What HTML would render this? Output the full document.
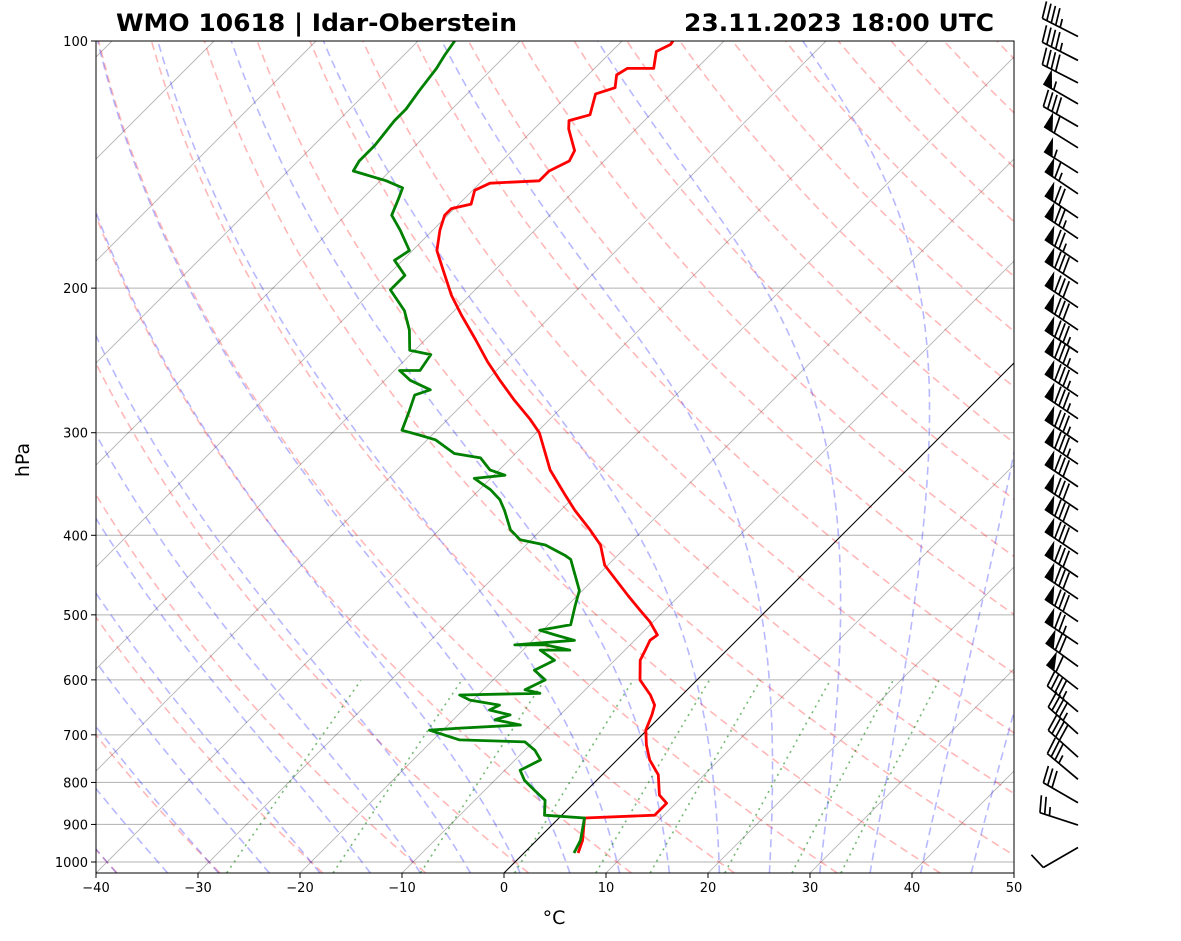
<!DOCTYPE html>
<html><head><meta charset="utf-8">
<style>
html,body{margin:0;padding:0;background:#fff;}
svg{display:block;font-family:"DejaVu Sans","Liberation Sans",sans-serif;}
</style></head>
<body>
<svg id="chart" width="1181" height="941" viewBox="0 0 1181 941" xmlns="http://www.w3.org/2000/svg">
<defs><clipPath id="plotclip"><rect x="96" y="41" width="918" height="832"/></clipPath></defs>
<rect x="0" y="0" width="1181" height="941" fill="#fff"/>
<g id="bg" clip-path="url(#plotclip)"></g>
<g id="series" clip-path="url(#plotclip)"></g>
<rect x="96" y="41" width="918" height="832" fill="none" stroke="#000" stroke-width="1"/>
<g id="axes"></g>
<g id="barbs"></g>
<text x="116" y="31" font-size="24" font-weight="bold" textLength="401" lengthAdjust="spacingAndGlyphs">WMO 10618 | Idar-Oberstein</text>
<text x="684" y="31" font-size="24" font-weight="bold" textLength="310" lengthAdjust="spacingAndGlyphs">23.11.2023 18:00 UTC</text>
<text x="554" y="924" font-size="19" text-anchor="middle">°C</text>
<text x="0" y="0" font-size="19" text-anchor="middle" transform="translate(29,460) rotate(-90)">hPa</text>
</svg>
<script>
// ---- data ----
const tempP=[975,941,884,877,848,829,783,751,720,691,662,644,626,600,568,552,537,529,510,493,474,453,435,411,394,373,357,333,315,300,289,274,259,246,231,216,204,190,180,170,163,160,158,152,149,148,144,140,136,128,125,123,116,114,110,108,108,103,101,100];
const tempT=[5.3,4.5,2.5,9.1,9.1,7.6,5.5,3.2,1.4,-0.1,-1.0,-1.7,-3.1,-5.6,-7.5,-8.0,-8.5,-8.3,-10.3,-12.5,-15.0,-17.8,-20.3,-22.7,-25.2,-28.6,-31.1,-35.0,-37.5,-39.7,-41.9,-45.3,-48.7,-51.7,-55.1,-58.8,-61.8,-65.1,-67.6,-69.3,-70.3,-70.3,-68.8,-69.8,-69.0,-64.4,-64.4,-63.4,-63.9,-66.6,-67.4,-65.9,-67.4,-66.1,-67.2,-66.8,-64.2,-65.6,-64.9,-65.0];
const dewP=[975,941,884,877,841,818,795,773,762,751,731,714,710,691,687,681,671,662,653,644,635,626,623,617,600,584,568,552,552,544,544,537,529,522,514,486,467,428,423,411,405,394,373,362,352,341,338,333,322,318,306,302,298,282,270,266,259,252,252,241,238,225,213,201,193,185,180,170,163,156,151,148,144,140,134,125,121,115,108,104,100];
const dewT=[4.9,4.3,2.5,-1.7,-3.1,-5.1,-7.1,-8.5,-8.0,-7.5,-9.0,-10.8,-17.4,-21.3,-18.5,-12.9,-15.9,-14.9,-17.4,-16.9,-20.3,-21.8,-14.1,-15.9,-14.9,-16.9,-15.9,-18.3,-15.4,-18.3,-21.3,-15.9,-18.3,-20.3,-17.8,-19.3,-20.3,-24.2,-25.2,-28.1,-31.1,-33.0,-35.5,-37.0,-38.9,-41.6,-38.9,-40.9,-43.0,-46.0,-49.2,-51.2,-53.4,-54.6,-55.6,-54.6,-57.5,-59.5,-57.5,-58.0,-60.5,-62.5,-64.9,-68.3,-68.3,-70.8,-70.3,-73.2,-75.5,-76.4,-77.1,-79.4,-83.6,-84.0,-84.0,-84.5,-84.5,-85.0,-85.5,-86.0,-86.4];
const barbP=[101,108,115,122,130,138,148,157,168,178,190,202,216,230,245,260,277,295,315,335,357,381,405,431,460,489,521,555,591,630,671,714,762,811,866,922,982];
const barbSpd=[45,45,40,55,40,60,55,65,70,75,75,80,80,80,85,85,85,85,85,85,80,80,80,80,80,80,80,75,70,60,45,45,40,35,30,25,10];
const barbDir=[297,297,297,300,300,302,302,304,304,304,304,304,304,304,304,304,304,304,304,304,304,304,304,304,304,304,304,304,306,308,310,312,312,310,300,288,240];
const xTicks=[-40,-30,-20,-10,0,10,20,30,40,50];
const yTicks=[100,200,300,400,500,600,700,800,900,1000];
const dryT0=[-50,-40,-30,-20,-10,0,10,20,30,40,50,60,70,80,90,100,110,120,130,140,150,160,170,180,190,200];
const moistT0=[-40,-35,-30,-25,-20,-15,-10,-5,0,5,10,15,20,25,30,35,40,45];
const mixW=[0.0004,0.001,0.002,0.004,0.007,0.01,0.016,0.024,0.032];

// ---- axes ----
const X0=96,X1=1014,Y0=41,Y1=873,PX=918/90;
function yP(p){return Y0+821*Math.log10(p/100);}
function xT(T,p){return X0+(T+40)*PX+(Y1-yP(p));}
const NS='http://www.w3.org/2000/svg';
function mk(tag,attrs,parent){const e=document.createElementNS(NS,tag);for(const k in attrs)e.setAttribute(k,attrs[k]);parent.appendChild(e);return e;}
const bg=document.getElementById('bg'),ser=document.getElementById('series'),ax=document.getElementById('axes'),bb=document.getElementById('barbs');
function pts(arrP,arrT){return arrP.map((p,i)=>xT(arrT[i],p).toFixed(1)+','+yP(arrP[i]).toFixed(1)).join(' ');}
const pTop=100,pBot=1031;
yTicks.forEach(p=>{
  const l=mk('line',{x1:X0,x2:X1,y1:yP(p),y2:yP(p),stroke:'#b0b0b0','stroke-width':1},bg);
  
  
});
for(let T=-130;T<=50;T+=10){
  const l=mk('line',{x1:xT(T,pBot),y1:yP(pBot),x2:xT(T,pTop),y2:yP(pTop),stroke:'#000','stroke-opacity':0.3,'stroke-width':0.9},bg);
  
  
}
function presList(){const a=[];for(let p=pBot;p>=pTop;p-=5)a.push(p);if(a[a.length-1]!==pTop)a.push(pTop);return a;}
const PL=presList();
dryT0.forEach(t0=>{
  const th=t0+273.15;
  const s=PL.map(p=>xT(th*Math.pow(p/1000,0.2857)-273.15,p).toFixed(1)+','+yP(p).toFixed(1)).join(' ');
  const l=mk('polyline',{points:s,fill:'none',stroke:'#ff0000','stroke-opacity':0.28,'stroke-width':1.6,'stroke-dasharray':'8,5'},bg);
  
  
});
function es(Tc){return 6.112*Math.exp(17.67*Tc/(Tc+243.5));}
function dTdp(T,p){const Rd=287.04,Cp=1005.7,Lv=2.501e6,eps=0.622;const e=es(T-273.15);const rs=eps*e/(p-e);
  return (Rd*T+Lv*rs)/(p*(Cp+Lv*Lv*rs*eps/(Rd*T*T)));}
moistT0.forEach(t0=>{
  let T=t0+273.15,p=1000;const up=[[p,T]];
  while(p>pTop){const h=-2;const k1=dTdp(T,p);const k2=dTdp(T+h*k1/2,p+h/2);T+=h*k2;p+=h;up.push([p,T]);}
  T=t0+273.15;p=1000;const dn=[];
  while(p<pBot){const h=2;const k1=dTdp(T,p);const k2=dTdp(T+h*k1/2,p+h/2);T+=h*k2;p+=h;dn.unshift([p,T]);}
  const all=dn.concat(up);
  const s=all.map(a=>xT(a[1]-273.15,a[0]).toFixed(1)+','+yP(a[0]).toFixed(1)).join(' ');
  const l=mk('polyline',{points:s,fill:'none',stroke:'#0000ff','stroke-opacity':0.28,'stroke-width':1.6,'stroke-dasharray':'8,5'},bg);
  
  
});
mixW.forEach(w=>{
  const s=[];for(let p=pBot;p>=600;p-=10){const e=w*p/(0.622+w);const g=Math.log(e/6.112);const Td=243.5*g/(17.67-g);s.push(xT(Td,p).toFixed(1)+','+yP(p).toFixed(1));}
  const l=mk('polyline',{points:s.join(' '),fill:'none',stroke:'#008000','stroke-opacity':0.55,'stroke-width':1.6,'stroke-dasharray':'2,4.5'},bg);
  
  
});
{const l=mk('line',{x1:xT(0,pBot),y1:yP(pBot),x2:xT(0,pTop),y2:yP(pTop),stroke:'#000','stroke-width':1},bg);

}
{const l=mk('polyline',{points:pts(tempP,tempT),fill:'none',stroke:'#ff0000','stroke-width':2.8,'stroke-linejoin':'round'},ser);


const d=mk('polyline',{points:pts(dewP,dewT),fill:'none',stroke:'#008000','stroke-width':2.8,'stroke-linejoin':'round'},ser);

}
xTicks.forEach(t=>{
  const x=X0+(t+40)*PX;
  const l=mk('line',{x1:x,x2:x,y1:Y1,y2:Y1+5,stroke:'#000'},ax);
  
  
  const tx=mk('text',{x:x,y:Y1+19,'font-size':13,'text-anchor':'middle'},ax);tx.textContent=(t<0?'\u2212'+(-t):t);
  
  
});
yTicks.forEach(p=>{
  const y=yP(p);
  const l=mk('line',{x1:X0-5,x2:X0,y1:y,y2:y,stroke:'#000'},ax);
  
  
  const tx=mk('text',{x:X0-8,y:y+5,'font-size':13,'text-anchor':'end'},ax);tx.textContent=p;
  
  
});
// wind barbs
const BX=1078,L=40,H=17;
barbP.forEach((p,i)=>{
  const y=yP(p)-8;const a=(barbDir[i]-270)*Math.PI/180;
  const d=[-Math.cos(a),-Math.sin(a)];
  const pp=[-d[1],d[0]];
  const up=(pp[1]<0)?pp:[-pp[0],-pp[1]];
  const g=mk('g',{},bb);
  
  
  const tip=[BX+L*d[0],y+L*d[1]];
  mk('line',{x1:BX,y1:y,x2:tip[0],y2:tip[1],stroke:'#000','stroke-width':1.7},g);
  let s=Math.round(barbSpd[i]/5)*5;let pos=0;
  const at=k=>[tip[0]-k*d[0],tip[1]-k*d[1]];
  while(s>=50){const b=at(pos),c=at(pos+10);const ap=[b[0]+H*up[0],b[1]+H*up[1]];
    mk('polygon',{points:`${b[0]},${b[1]} ${c[0]},${c[1]} ${ap[0]},${ap[1]}`,fill:'#000'},g);pos+=12;s-=50;}
  while(s>=10){const b=at(pos);mk('line',{x1:b[0],y1:b[1],x2:b[0]+H*up[0]+4*d[0],y2:b[1]+H*up[1]+4*d[1],stroke:'#000','stroke-width':1.7},g);pos+=5;s-=10;}
  if(s>=5){if(pos===0)pos=5;const b=at(pos);mk('line',{x1:b[0],y1:b[1],x2:b[0]+H/2*up[0]+2*d[0],y2:b[1]+H/2*up[1]+2*d[1],stroke:'#000','stroke-width':1.7},g);}
});
</script>
</body></html>
